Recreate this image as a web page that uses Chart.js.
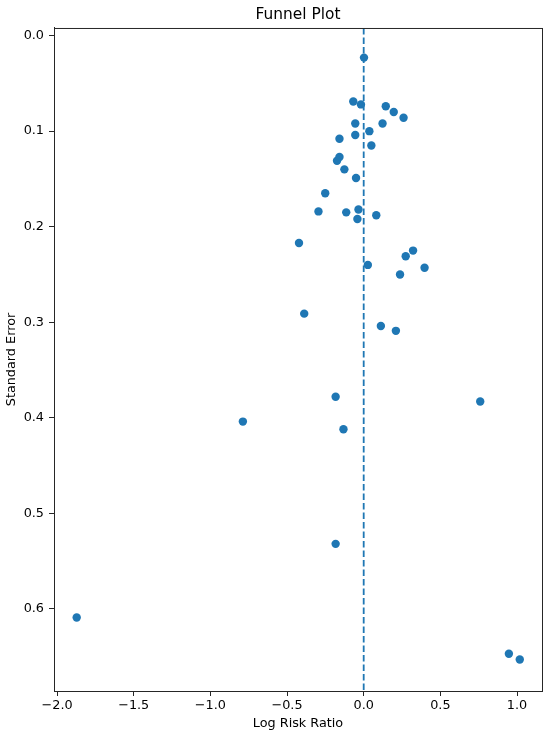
<!DOCTYPE html>
<html>
<head>
<meta charset="utf-8">
<script src="https://cdn.jsdelivr.net/npm/chart.js@4"></script>
<style>
  html, body { margin: 0; padding: 0; background: #fff; }
  #wrap { width: 550px; height: 736px; }
</style>
</head>
<body>
<div id="wrap"><canvas id="chart"></canvas></div>
<script>
// log risk ratio (x) and standard error (y) for each study
const logRR = [
  0.002, -0.068, -0.018, 0.144, 0.196, 0.260, -0.055, 0.123, 0.037, -0.055,
  -0.158, 0.050, -0.158, -0.174, -0.126, -0.050, -0.251, -0.295, -0.114, -0.034,
  -0.041, 0.082, -0.422, 0.322, 0.274, 0.027, 0.397, 0.237, -0.388, 0.112,
  0.210, -0.183, 0.760, -0.788, -0.132, -0.183, -1.872, 0.947, 1.018
];
const stdErr = [
  0.023, 0.069, 0.072, 0.074, 0.080, 0.086, 0.092, 0.092, 0.100, 0.104,
  0.108, 0.115, 0.127, 0.131, 0.140, 0.149, 0.165, 0.184, 0.185, 0.182,
  0.192, 0.188, 0.217, 0.225, 0.231, 0.240, 0.243, 0.250, 0.291, 0.304,
  0.309, 0.378, 0.383, 0.404, 0.412, 0.532, 0.609, 0.647, 0.653
];
const refLineX = 0;
const xTicks = [-2.0, -1.5, -1.0, -0.5, 0.0, 0.5, 1.0];
const yTicks = [0.0, 0.1, 0.2, 0.3, 0.4, 0.5, 0.6];

const blue = '#1f77b4';
const axisColor = '#262626';
const font = 'DejaVu Sans';

const xMin = -2.02, xMax = 1.163;
const yMin = -0.008, yMax = 0.686;

const points = logRR.map((x, i) => ({ x: x, y: stdErr[i] }));

const fmt = v => (v < 0 ? '\u2212' : '') + Math.abs(v).toFixed(1);

const frame = {
  id: 'frame',
  afterDraw(chart) {
    const { ctx, chartArea: a } = chart;
    ctx.save();
    ctx.strokeStyle = axisColor;
    ctx.lineWidth = 1;
    ctx.strokeRect(a.left + 0.5, a.top + 0.5, a.right - a.left, a.bottom - a.top);
    ctx.restore();
  }
};

new Chart(document.getElementById('chart'), {
  type: 'scatter',
  data: {
    datasets: [
      {
        data: points,
        backgroundColor: blue,
        borderColor: blue,
        pointRadius: 4.2,
        pointHoverRadius: 4.2,
        borderWidth: 0,
        order: 1
      },
      {
        type: 'line',
        data: [{ x: refLineX, y: yMin }, { x: refLineX, y: yMax }],
        borderColor: blue,
        borderWidth: 1.8,
        borderDash: [6.5, 3],
        pointRadius: 0,
        fill: false,
        order: 2
      }
    ]
  },
  options: {
    responsive: true,
    maintainAspectRatio: false,
    animation: false,
    layout: { padding: { left: 0, right: 8, top: 0, bottom: 0 } },
    plugins: {
      legend: { display: false },
      tooltip: { enabled: false },
      title: {
        display: true,
        text: 'Funnel Plot',
        fullSize: false,
        color: '#000',
        font: { family: font, size: 15.4, weight: 'normal' },
        padding: { top: 6, bottom: 3.5 }
      }
    },
    scales: {
      x: {
        type: 'linear',
        min: xMin,
        max: xMax,
        afterBuildTicks: s => { s.ticks = xTicks.map(v => ({ value: v })); },
        afterFit: s => { s.height = 45; },
        ticks: {
          callback: v => fmt(v),
          color: '#000',
          font: { family: font, size: 12.8 },
          padding: 2,
          maxRotation: 0
        },
        grid: { drawOnChartArea: false, drawTicks: true, tickLength: 5, color: axisColor },
        border: { display: true, color: axisColor },
        title: {
          display: true,
          text: 'Log Risk Ratio',
          color: '#000',
          font: { family: font, size: 12.8 },
          padding: { top: 2, bottom: 5 }
        }
      },
      y: {
        type: 'linear',
        reverse: true,
        min: yMin,
        max: yMax,
        afterBuildTicks: s => { s.ticks = yTicks.map(v => ({ value: v })); },
        afterFit: s => { s.width = 54; },
        ticks: {
          callback: v => fmt(v),
          color: '#000',
          font: { family: font, size: 12.8 },
          padding: 5
        },
        grid: { drawOnChartArea: false, drawTicks: true, tickLength: 5, color: axisColor },
        border: { display: true, color: axisColor },
        title: {
          display: true,
          text: 'Standard Error',
          color: '#000',
          font: { family: font, size: 12.8 },
          padding: { top: 3.5, bottom: 2 }
        }
      }
    }
  },
  plugins: [frame]
});
</script>
</body>
</html>
